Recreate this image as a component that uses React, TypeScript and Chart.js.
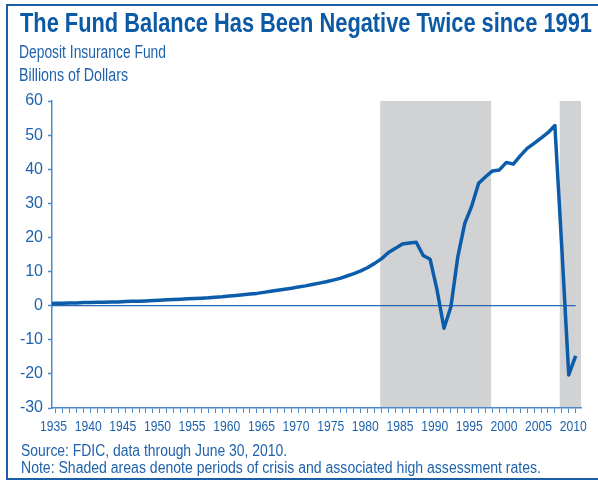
import React, { useEffect, useRef } from "react";
import { Chart, registerables } from "chart.js";

Chart.register(...registerables);

const years: number[] = [
  1934, 1935, 1936, 1937, 1938, 1939, 1940, 1941, 1942, 1943, 1944, 1945, 1946, 1947, 1948, 1949,
  1950, 1951, 1952, 1953, 1954, 1955, 1956, 1957, 1958, 1959, 1960, 1961, 1962, 1963, 1964, 1965,
  1966, 1967, 1968, 1969, 1970, 1971, 1972, 1973, 1974, 1975, 1976, 1977, 1978, 1979, 1980, 1981,
  1982, 1983, 1984, 1985, 1986, 1987, 1988, 1989, 1990, 1991, 1992, 1993, 1994, 1995, 1996, 1997,
  1998, 1999, 2000, 2001, 2002, 2003, 2004, 2005, 2006, 2007, 2008, 2009, 2010,
];

const fundBalance: number[] = [
  0.6, 0.7, 0.7, 0.8, 0.8, 0.9, 0.9, 1.0, 1.0, 1.1, 1.1, 1.2, 1.3, 1.3, 1.4, 1.5,
  1.6, 1.7, 1.8, 1.9, 2.0, 2.1, 2.2, 2.3, 2.5, 2.6, 2.8, 3.0, 3.2, 3.4, 3.6, 3.9,
  4.2, 4.5, 4.8, 5.1, 5.5, 5.8, 6.2, 6.6, 7.0, 7.5, 8.0, 8.7, 9.4, 10.2, 11.2, 12.4,
  13.8, 15.6, 16.8, 18.1, 18.4, 18.6, 14.7, 13.6, 4.6, -6.6, -0.3, 14.4, 24.1, 29.2, 35.9, 37.8,
  39.5, 39.8, 42.0, 41.5, 43.9, 46.1, 47.6, 49.1, 50.7, 52.8, 17.0, -20.3, -14.7,
];

const crisisStart: number[] = [1981.8, 2007.7];
const crisisEnd: number[] = [1997.8, 2010.8];

const zeroLineYears: number[] = [1934.44, 2010.0];
const zeroLineValues: number[] = [0, 0];

const xMin = 1934.44;
const xMax = 2010.77;
const xLabelEvery = 5;
const yTicks: number[] = [-30, -20, -10, 0, 10, 20, 30, 40, 50, 60];

const FONT = "'Liberation Sans', Arial, Helvetica, sans-serif";
const TEXT_BLUE = "#1f62ac";
const TITLE_BLUE = "#0c5aa6";
const LINE_BLUE = "#0b5cab";
const AXIS_BLUE = "#4a8acb";
const GRAY = "#d1d2d4";

const shadePlugin = {
  id: "crisisShade",
  beforeDraw(chart: any) {
    const { ctx, chartArea, scales } = chart;
    const xs = scales.x;
    ctx.save();
    ctx.fillStyle = GRAY;
    for (let i = 0; i < crisisStart.length; i++) {
      const x0 = xs.getPixelForValue(crisisStart[i]);
      const x1 = Math.min(xs.getPixelForValue(crisisEnd[i]), chartArea.right);
      ctx.fillRect(x0, chartArea.top, x1 - x0, chartArea.bottom - chartArea.top);
    }
    ctx.restore();
  },
};

// Condensed x-axis labels (the source uses a condensed face)
const xLabelPlugin = {
  id: "condensedXLabels",
  afterDraw(chart: any) {
    const { ctx, scales } = chart;
    const xs = scales.x;
    ctx.save();
    ctx.font = `15px ${FONT}`;
    ctx.fillStyle = TEXT_BLUE;
    ctx.textAlign = "center";
    ctx.textBaseline = "alphabetic";
    const k = 27 / ctx.measureText("1935").width;
    for (const t of xs.ticks) {
      const v = Math.round(t.value);
      if (v % xLabelEvery !== 0) continue;
      const x = xs.getPixelForValue(v) - 2.4;
      ctx.save();
      ctx.translate(x, 430.5);
      ctx.scale(k, 1);
      ctx.fillText(String(v), 0, 0);
      ctx.restore();
    }
    ctx.restore();
  },
};

type Txt = { text: string; left: number; top: number; size: number; width: number; bold?: boolean; color?: string };

const texts: Txt[] = [
  { text: "The Fund Balance Has Been Negative Twice since 1991", left: 20, top: 10.4, size: 27, width: 572, bold: true, color: TITLE_BLUE },
  { text: "Deposit Insurance Fund", left: 19, top: 44.4, size: 17.5, width: 147 },
  { text: "Billions of Dollars", left: 19, top: 66.8, size: 17.5, width: 109 },
  { text: "Source: FDIC, data through June 30, 2010.", left: 21, top: 442.5, size: 16, width: 266 },
  { text: "Note: Shaded areas denote periods of crisis and associated high assessment rates.", left: 21, top: 459.5, size: 16, width: 520 },
];

export default function App() {
  const canvasRef = useRef<HTMLCanvasElement | null>(null);
  const textRefs = useRef<(HTMLDivElement | null)[]>([]);

  useEffect(() => {
    textRefs.current.forEach((el, i) => {
      if (!el) return;
      el.style.transform = "none";
      const w = el.getBoundingClientRect().width;
      if (w > 0) el.style.transform = `scaleX(${texts[i].width / w})`;
    });
  }, []);

  useEffect(() => {
    if (!canvasRef.current) return;
    const chart = new Chart(canvasRef.current, {
      type: "line",
      data: {
        datasets: [
          {
            data: years.map((y, i) => ({ x: y, y: fundBalance[i] })),
            borderColor: LINE_BLUE,
            borderWidth: 3.5,
            pointRadius: 0,
            tension: 0,
            borderJoinStyle: "round",
          },
          {
            data: zeroLineYears.map((y, i) => ({ x: y, y: zeroLineValues[i] })),
            borderColor: "#2a69b1",
            borderWidth: 1.2,
            pointRadius: 0,
          },
        ],
      },
      options: {
        animation: false,
        responsive: false,
        devicePixelRatio: 1,
        layout: { padding: { top: 101, right: 17, bottom: 45, left: 0 } },
        plugins: {
          legend: { display: false },
          tooltip: { enabled: false },
          title: { display: false },
        },
        scales: {
          x: {
            type: "linear",
            min: xMin,
            max: xMax,
            afterFit: (s: any) => {
              s.height = 30;
            },
            ticks: {
              stepSize: 1,
              includeBounds: false,
              autoSkip: false,
              maxRotation: 0,
              minRotation: 0,
              callback: () => "",
            },
            grid: {
              drawOnChartArea: false,
              drawTicks: true,
              tickLength: 5,
              tickColor: AXIS_BLUE,
              tickWidth: 1,
            },
            border: { color: AXIS_BLUE, width: 1.5 },
          },
          y: {
            min: -30,
            max: 60,
            afterFit: (s: any) => {
              s.width = 52;
            },
            afterBuildTicks: (s: any) => {
              s.ticks = yTicks.map((v) => ({ value: v }));
            },
            ticks: {
              padding: 5,
              color: TEXT_BLUE,
              font: { family: FONT, size: 16 },
            },
            grid: {
              drawOnChartArea: false,
              drawTicks: true,
              tickLength: 4,
              tickColor: AXIS_BLUE,
              tickWidth: 1.5,
            },
            border: { color: AXIS_BLUE, width: 1.5 },
          },
        },
      },
      plugins: [shadePlugin, xLabelPlugin],
    });
    return () => chart.destroy();
  }, []);

  return (
    <div
      style={{
        position: "absolute",
        left: 0,
        top: 0,
        width: 598,
        height: 483,
        overflow: "hidden",
        background: "#ffffff",
      }}
    >
      <div
        style={{
          position: "absolute",
          left: 6,
          top: 4,
          width: 620,
          height: 476,
          borderTop: "2.5px solid #1a5ea8",
          borderLeft: "2.5px solid #1a5ea8",
          borderBottom: "2.5px solid #1a5ea8",
          boxSizing: "border-box",
        }}
      />
      <canvas
        ref={canvasRef}
        width={598}
        height={483}
        style={{ position: "absolute", left: 0, top: 0, width: 598, height: 483 }}
      />
      {texts.map((t, i) => (
        <div
          key={i}
          ref={(el) => {
            textRefs.current[i] = el;
          }}
          style={{
            position: "absolute",
            left: t.left,
            top: t.top,
            fontFamily: FONT,
            fontSize: t.size,
            fontWeight: t.bold ? 700 : 400,
            lineHeight: 1,
            whiteSpace: "nowrap",
            color: t.color || TEXT_BLUE,
            transformOrigin: "left top",
          }}
        >
          {t.text}
        </div>
      ))}
    </div>
  );
}
